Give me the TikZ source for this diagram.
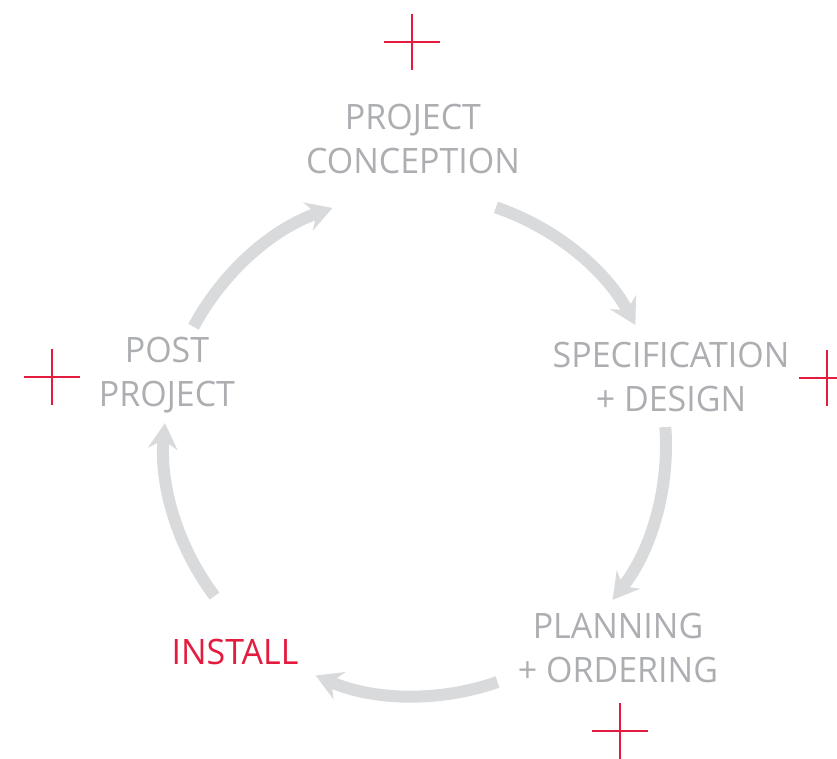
\documentclass[tikz,border=0pt]{standalone}
\usepackage{fontspec}
\setmainfont{Open Sans}[FakeStretch=0.97]
\usetikzlibrary{arrows.meta}
\definecolor{txtgray}{HTML}{ACAEB1}
\definecolor{arrgray}{HTML}{D9DADB}
\definecolor{accred}{HTML}{E31B3F}
\begin{document}
\begin{tikzpicture}[x=1pt,y=1pt,
  stage/.style={font=\fontsize{35}{44}\selectfont, text=txtgray, align=center, inner sep=0pt},
  cyc/.style={draw=arrgray, line width=12pt,
    -{Stealth[length=26pt,width=30pt,inset=9pt,line width=0pt]}},
  crossline/.style={draw=accred, line width=2.3pt},
  redcross/.pic={\draw[crossline] (-28,0) -- (28,0) (0,-28) -- (0,28);}]
\useasboundingbox (0,0) rectangle (837,758);
\coordinate (c) at (415,313);

% stages
\node[stage] (conc) at (413,619) {PROJECT\\CONCEPTION};
\node[stage] (spec) at (671,381) {SPECIFICATION\\+ DESIGN};
\node[stage] (plan) at (618,110) {PLANNING\\+ ORDERING};
\node[stage, text=accred] (inst) at (235,106) {INSTALL};
\node[stage] (post) at (167,383) {POST\\PROJECT};

% arc connectors
\coordinate (a1) at ([shift={(71.2:251)}]c);
\coordinate (a2) at ([shift={(4.1:251)}]c);
\coordinate (a3) at ([shift={(-70.8:251)}]c);
\coordinate (a4) at ([shift={(-143:251)}]c);
\coordinate (a5) at ([shift={(151.9:251)}]c);
\draw[cyc] (a1) arc[start angle=71.2, end angle=28.6, radius=251];
\draw[cyc] (a2) arc[start angle=4.1, end angle=-38.1, radius=251];
\draw[cyc] (a3) arc[start angle=-70.8, end angle=-113.3, radius=251];
\draw[cyc] (a4) arc[start angle=-143, end angle=-185, radius=251];
\draw[cyc] (a5) arc[start angle=151.9, end angle=109.2, radius=251];

% red crosses
\pic at (412,716) {redcross};
\pic at (52,381) {redcross};
\pic at (827,380) {redcross};
\pic at (620,27) {redcross};
\end{tikzpicture}
\end{document}
